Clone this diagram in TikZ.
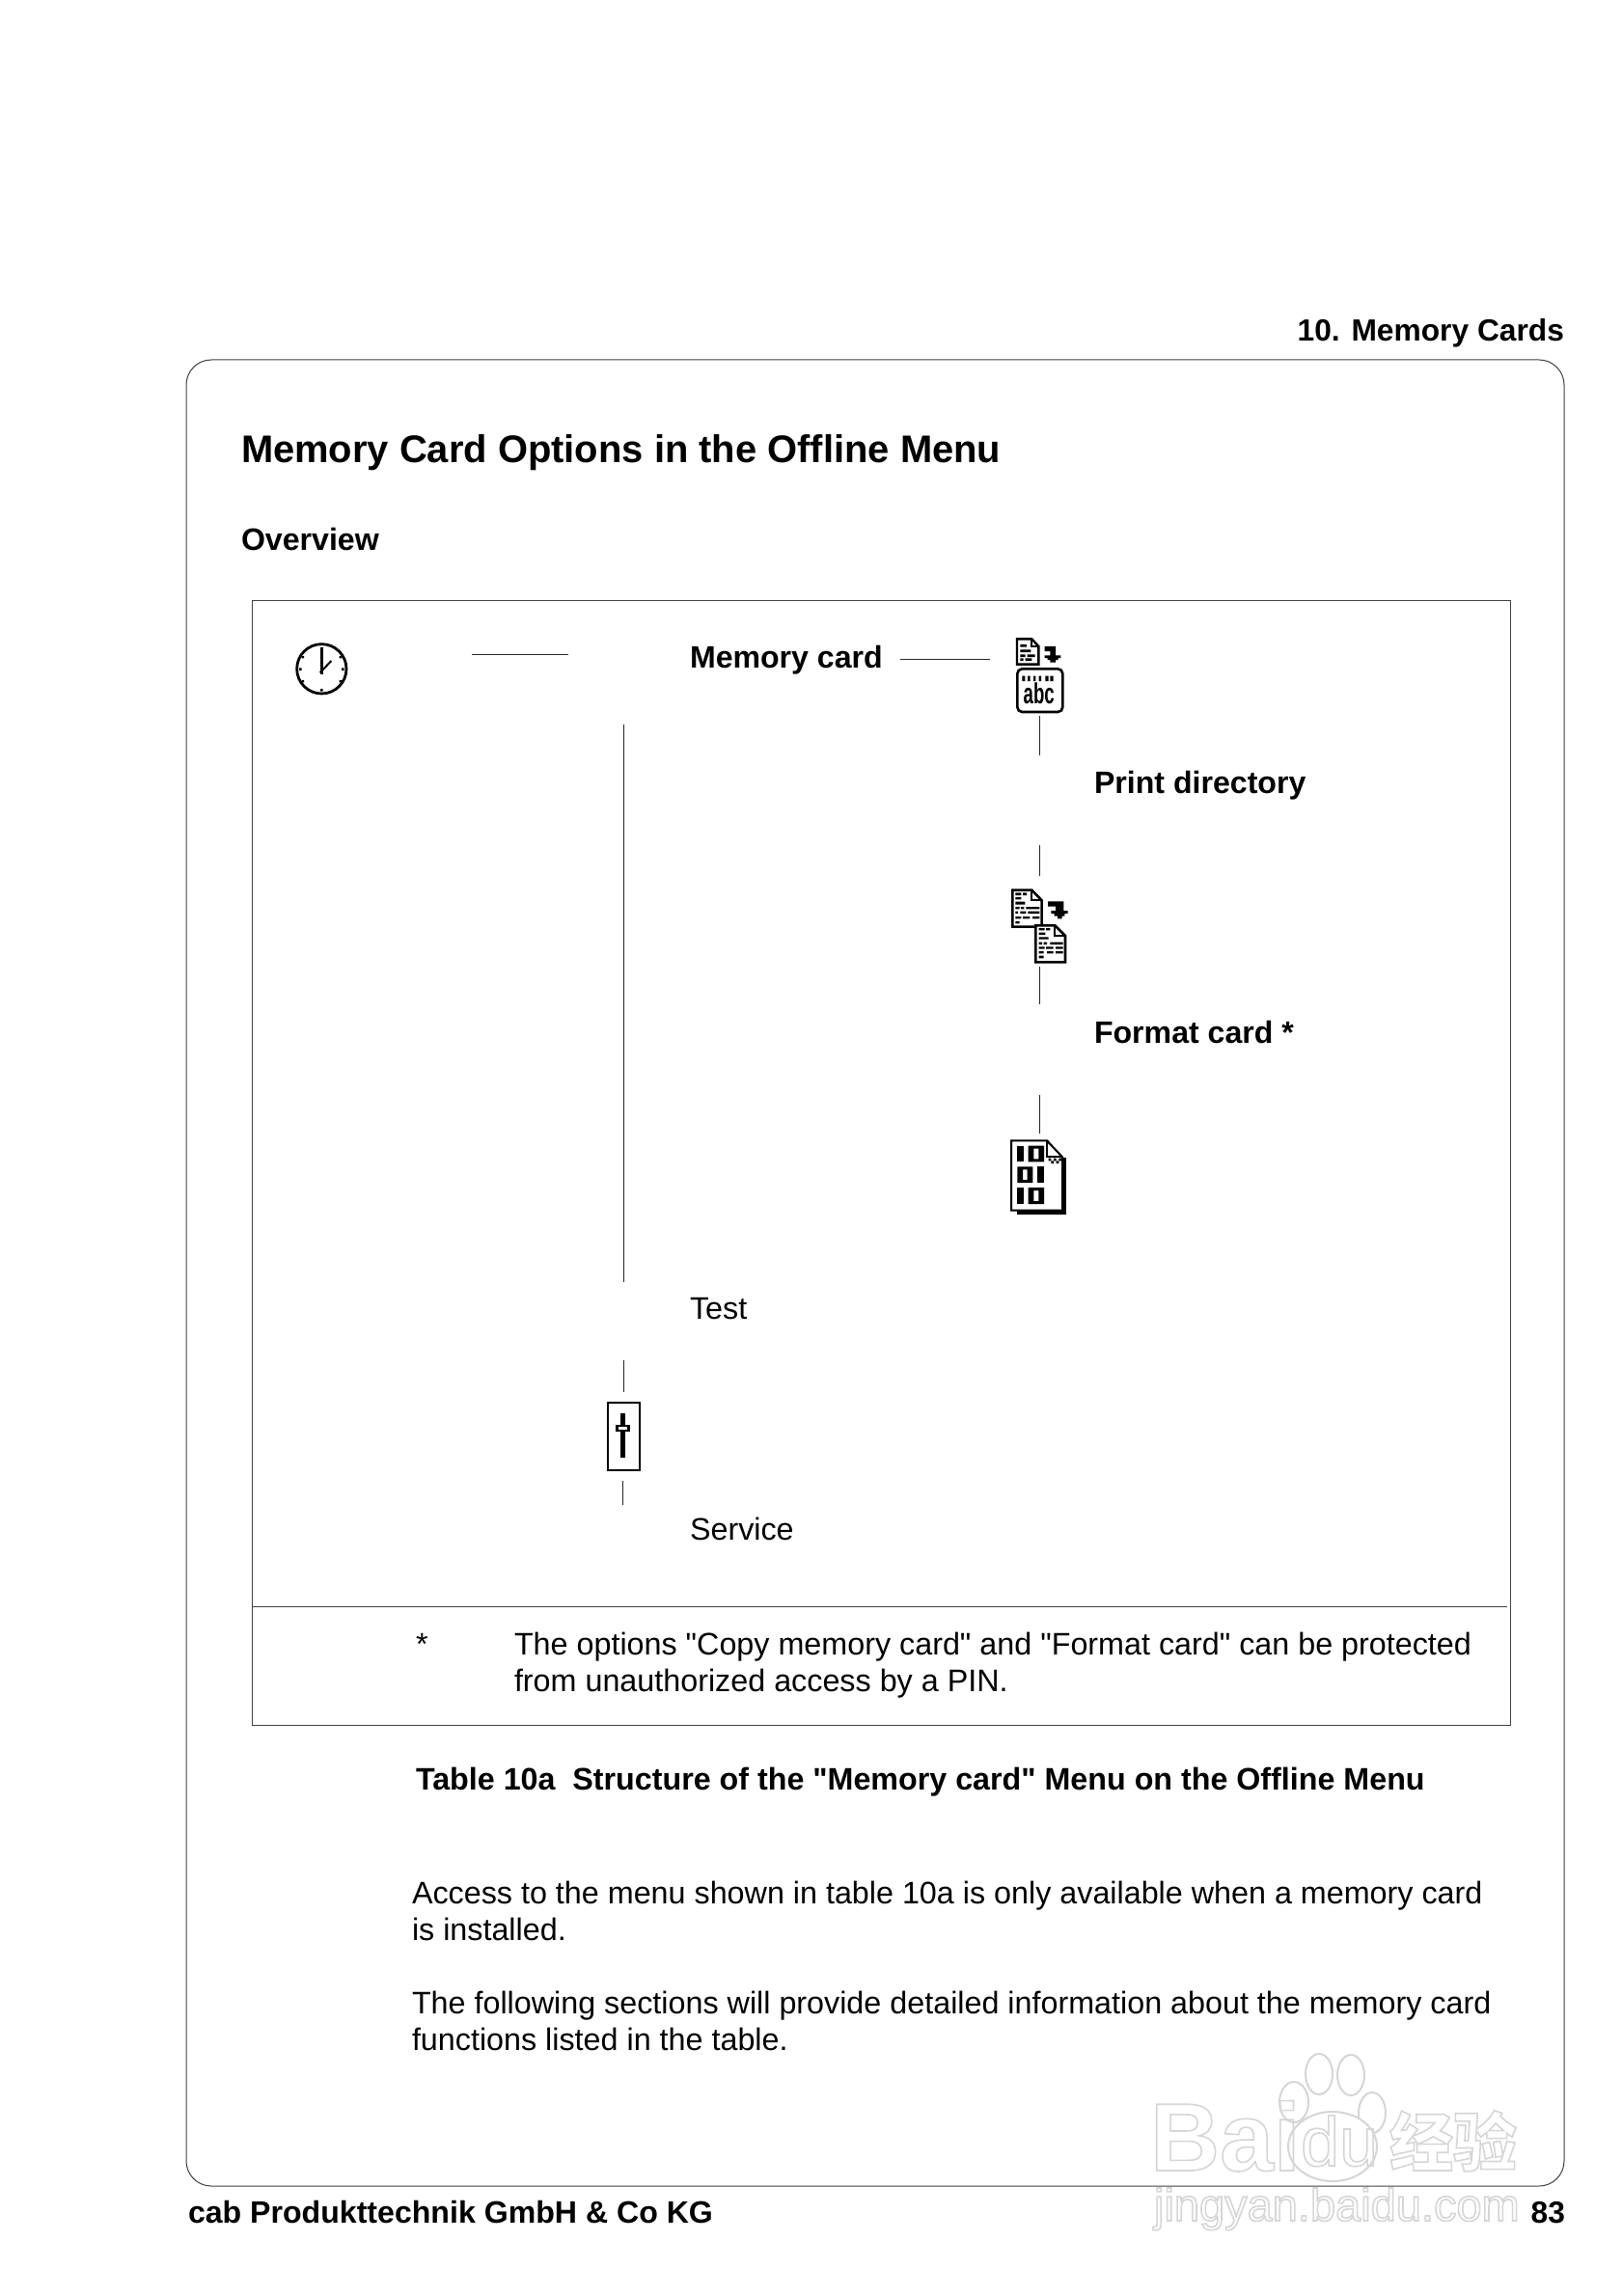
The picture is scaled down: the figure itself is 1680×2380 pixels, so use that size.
\documentclass[tikz,border=0pt]{standalone}
\usepackage{fontspec}
\usepackage{graphicx}
\setmainfont{Liberation Sans}[Ligatures=TeXOff]
\newfontfamily\cjkwm{Noto Sans CJK SC}
\newcommand{\bodyfs}{\fontsize{16.15}{19}\selectfont}
\newcommand{\boldfs}{\fontsize{16.05}{19}\selectfont}
\newcommand{\headfs}{\fontsize{19.96}{24}\selectfont}
\newcommand{\outl}[1]{\special{pdf:code q 1 Tr 0.8 w 0.84 G}#1\special{pdf:code Q}}
\tikzset{
  txt/.style={anchor=base west,inner sep=0pt,outer sep=0pt,font=\bodyfs},
  btxt/.style={anchor=base west,inner sep=0pt,outer sep=0pt,font=\boldfs\bfseries},
  rtxt/.style={anchor=base east,inner sep=0pt,outer sep=0pt,font=\fontsize{15.87}{19}\selectfont\bfseries},
  conn/.style={line width=0.5pt,black!85},
  frame/.style={line width=0.5pt,black!75},
  zoomed/.style={x=0.16667pt,y=-0.16667pt},
  wmtxt/.style={anchor=base west,inner sep=0pt,outer sep=0pt},
  toe/.style={draw=black!16,line width=1pt,fill=white},
}
\begin{document}
\begin{tikzpicture}[x=0.5pt,y=-0.5pt]
\useasboundingbox (0,0) rectangle (1680,2380);
\fill[white] (0,0) rectangle (1680,2380);

% watermark
\begin{scope}[yshift=-5pt]
\draw[toe] (1341,2169) ellipse (15 and 21);
\draw[toe] (1367,2140) ellipse (14 and 21);
\draw[toe] (1400,2141) ellipse (14 and 21);
\draw[toe] (1422,2180) ellipse (14 and 21);
\draw[toe] (1381,2215) ellipse (46 and 36);
\end{scope}
\node[wmtxt,font=\fontsize{50}{50}\selectfont\bfseries] (wmbai) at (1192,2250) {\outl{Bai}};
\node[wmtxt,font=\fontsize{36}{36}\selectfont] (wmdu) at (1348,2245) {\outl{du}};
\node[wmtxt,font=\fontsize{33}{33}\selectfont\cjkwm\bfseries] (wmjy) at (1440,2245) {\outl{经验}};
\node[wmtxt,font=\fontsize{23.5}{24}\selectfont] (wmurl) at (1196,2302) {\outl{jingyan.baidu.com}};

% frames
\draw[frame,rounded corners=13pt] (193,373) rectangle (1621,2266);
\draw[frame] (261,622) rectangle (1565,1788);
\draw[frame] (261,1665) -- (1562,1665);

% text
\node[rtxt] (hdr) at (1621,354) {10. Memory Cards};
\node[btxt,font=\headfs\bfseries] (title) at (250,480) {Memory Card Options in the Offline Menu};
\node[btxt] (over) at (250,570) {Overview};
\node[btxt] (mc) at (715,692) {Memory card};
\node[btxt] (pd) at (1134,822) {Print directory};
\node[btxt] (fc) at (1134,1081) {Format card *};
\node[txt] (test) at (715,1367) {Test};
\node[txt] (serv) at (715,1596) {Service};
\node[txt] (star) at (431,1715) {*};
\node[txt] (n1) at (533,1715) {The options "Copy memory card" and "Format card" can be protected};
\node[txt] (n2) at (533,1753) {from unauthorized access by a PIN.};
\node[btxt,font=\fontsize{16.12}{19}\selectfont\bfseries] (cap) at (431,1855) {Table 10a\ \ Structure of the "Memory card" Menu on the Offline Menu};
\node[txt] (p1) at (427,1973) {Access to the menu shown in table 10a is only available when a memory card};
\node[txt] (p2) at (427,2011) {is installed.};
\node[txt] (p3) at (427,2087) {The following sections will provide detailed information about the memory card};
\node[txt] (p4) at (427,2125) {functions listed in the table.};
\node[btxt] (foot) at (195,2304) {cab Produkttechnik GmbH \& Co KG};
\node[rtxt] (pg) at (1622,2304) {83};

% connector ends
\coordinate (a1) at (489,678); \coordinate (a2) at (589,678);
\coordinate (b1) at (933,683); \coordinate (b2) at (1026,683);
\coordinate (c1) at (1077.5,742); \coordinate (c2) at (1077.5,783);
\coordinate (d1) at (1077.5,876); \coordinate (d2) at (1077.5,908);
\coordinate (e1) at (1077.5,1002); \coordinate (e2) at (1077.5,1041);
\coordinate (f1) at (1077.5,1135); \coordinate (f2) at (1077.5,1175);
\coordinate (g1) at (646.5,751); \coordinate (g2) at (646.5,1329);
\coordinate (h1) at (646.5,1410); \coordinate (h2) at (646.5,1443);
\coordinate (i1) at (645.5,1535); \coordinate (i2) at (645.5,1560);
\draw[conn] (a1)--(a2);
\draw[conn] (b1)--(b2);
\draw[conn] (c1)--(c2);
\draw[conn] (d1)--(d2);
\draw[conn] (e1)--(e2);
\draw[conn] (f1)--(f2);
\draw[conn] (g1)--(g2);
\draw[conn] (h1)--(h2);
\draw[conn] (i1)--(i2);

% clock
\begin{scope}[shift={(280,640)},zoomed]
\draw[line width=1.4pt] (160,160) circle (77);
\draw[line width=1.2pt] (160,93)--(160,178);
\draw[line width=1pt] (155,172)--(190,135);
\fill (90,157) rectangle (98,165) (222,157) rectangle (230,165) (156,222) rectangle (164,230)
 (98,120) rectangle (105,127) (215,120) rectangle (222,127)
 (98,195) rectangle (105,202) (215,195) rectangle (222,202);
\end{scope}

% doc -> card
\begin{scope}[shift={(1020,640)},zoomed]
\draw[line width=1.2pt,fill=white,miter limit=2] (102,67)--(148,67)--(169,90)--(169,146)--(102,146)--cycle;
\draw[line width=1pt] (148,67)--(148,90)--(169,90);
\fill (112,84) rectangle (132,92) (112,100) rectangle (145,108) (112,115) rectangle (128,123) (134,115) rectangle (158,123)
 (112,127) rectangle (122,135) (128,127) rectangle (148,135);
\fill (188,90) rectangle (222,105) (205,105) rectangle (222,118) (188,118) rectangle (238,126) (197,126) rectangle (230,132) (205,132) rectangle (222,140);
\draw[line width=1.3pt,rounded corners=2.5pt] (103,160) rectangle (244,294);
\fill (118,182) rectangle (127,198) (135,182) rectangle (143,198) (153,182) rectangle (160,198) (170,182) rectangle (177,198) (190,182) rectangle (200,198) (205,182) rectangle (215,198);
\node[inner sep=0pt,outer sep=0pt,font=\fontsize{15}{15}\selectfont\bfseries] (abc) at (170,236) {\scalebox{0.62}[1]{abc}};
\end{scope}

% two docs
\begin{scope}[shift={(1020,900)},zoomed]
\draw[line width=1.3pt,fill=white,miter limit=2] (88,68)--(148,68)--(179,100)--(179,182)--(88,182)--cycle;
\draw[line width=1pt] (146,68)--(146,100)--(179,100);
\fill (97,76) rectangle (115,84) (120,76) rectangle (132,84) (97,90) rectangle (115,97) (97,104) rectangle (127,113)
 (97,120) rectangle (110,127) (114,120) rectangle (124,127) (130,120) rectangle (172,127)
 (97,134) rectangle (105,141) (112,134) rectangle (130,141) (136,134) rectangle (172,141)
 (97,150) rectangle (115,157) (120,150) rectangle (142,157) (150,150) rectangle (172,157) (97,165) rectangle (110,172);
\fill (198,103) rectangle (247,119) (222,119) rectangle (247,132) (208,132) rectangle (260,141) (218,141) rectangle (250,149) (228,149) rectangle (242,157);
\draw[line width=1.3pt,fill=white,miter limit=2] (160,178)--(220,178)--(252,210)--(252,292)--(160,292)--cycle;
\draw[line width=1pt] (218,178)--(218,210)--(252,210);
\fill (170,186) rectangle (188,193) (192,186) rectangle (205,193) (170,200) rectangle (190,207) (170,214) rectangle (200,221)
 (170,230) rectangle (180,237) (185,230) rectangle (195,237) (205,230) rectangle (245,237)
 (170,244) rectangle (188,251) (192,244) rectangle (215,251) (222,244) rectangle (245,251)
 (170,258) rectangle (185,265) (195,258) rectangle (215,265) (222,258) rectangle (245,265) (170,272) rectangle (185,280);
\end{scope}

% binary doc
\begin{scope}[shift={(1020,1160)},zoomed]
\fill (102,120) rectangle (254,296);
\fill[white,draw=black,line width=1pt,miter limit=2] (84,67)--(195,67)--(243,118)--(243,284)--(84,284)--cycle;
\fill[white] (205,67) rectangle (256,118);
\draw[line width=1pt] (195,67)--(243,118);
\draw[line width=1pt] (195,67)--(195,118)--(243,118);
\fill (103,83) rectangle (123,133);
\fill[even odd rule] (137,83) rectangle (186,133) (154,92) rectangle (169,124);
\fill[even odd rule] (103,148) rectangle (151,198) (120,157) rectangle (134,189);
\fill (165,148) rectangle (186,198);
\fill (103,213) rectangle (123,264);
\fill[even odd rule] (137,213) rectangle (186,264) (154,222) rectangle (169,255);
\fill (200,122) rectangle (208,130) (216,122) rectangle (224,130) (232,122) rectangle (240,130)
 (208,130) rectangle (216,138) (224,130) rectangle (232,138);
\end{scope}

% slider
\draw[line width=1.2pt] (630,1454) rectangle (663,1524);
\fill (643,1465) rectangle (648,1511);
\fill (638,1477) rectangle (653,1484);
\fill[white] (641,1479) rectangle (650,1482);
\end{tikzpicture}
\end{document}
